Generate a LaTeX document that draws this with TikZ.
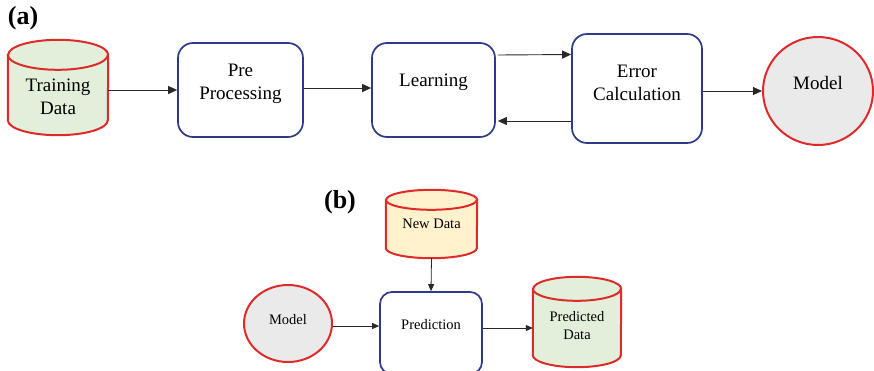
\documentclass[tikz,border=0pt]{standalone}
\usepackage{fontspec}
\setmainfont{Liberation Serif}
\usetikzlibrary{arrows.meta,positioning,shapes.geometric}
\definecolor{cred}{RGB}{224,42,42}
\definecolor{cblue}{RGB}{48,58,138}
\definecolor{gfill}{RGB}{226,239,218}
\definecolor{yfill}{RGB}{255,242,204}
\definecolor{mfill}{RGB}{234,234,234}
\definecolor{aline}{RGB}{40,40,40}
\tikzset{
  procbox/.style={draw=cblue, line width=1.7pt, rounded corners=15pt, fill=white, inner sep=0pt},
  cylshape/.style={draw=none, inner sep=0pt},
  cylline/.style={draw=cred, line width=2pt},
  modelnode/.style={ellipse, draw=cred, line width=2pt, fill=mfill, inner sep=0pt},
  bigtxt/.style={font=\fontsize{19}{23}\selectfont, align=center, inner sep=0pt},
  smalltxt/.style={font=\fontsize{14.5}{18}\selectfont, align=center, inner sep=0pt},
  tag/.style={font=\bfseries\fontsize{26}{30}\selectfont, inner sep=0pt},
  flow/.style={draw=aline, line width=0.9pt, -{Triangle[length=9pt,width=8pt]}},
  flowsmall/.style={draw=aline, line width=0.8pt, -{Triangle[length=7pt,width=6pt]}},
}
% #1 name, #2 cx, #3 cy, #4 width, #5 height, #6 ry, #7 fill
\newcommand\mycyl[7]{%
  \node[cylshape, minimum width=#4pt, minimum height=#5pt] (#1) at (#2,#3) {};
  \draw[cylline, fill=#7] ([yshift=-#6pt]#1.north west) -- ([yshift=#6pt]#1.south west)
    arc[start angle=180, end angle=360, x radius=#4*0.5pt, y radius=#6pt]
    -- ([yshift=-#6pt]#1.north east)
    arc[start angle=0, end angle=180, x radius=#4*0.5pt, y radius=#6pt] -- cycle;
  \draw[cylline] ([yshift=-#6pt]#1.north west)
    arc[start angle=180, end angle=360, x radius=#4*0.5pt, y radius=#6pt];
}
\begin{document}
\begin{tikzpicture}[x=1pt,y=-1pt]
\useasboundingbox (0,0) rectangle (874,370);

% ---- (a) ----
\node[tag] (taga) at (23,18) {(a)};
\mycyl{td}{58}{87.5}{100}{95}{15}{gfill}
\node[bigtxt] (tdt) at (58,97) {Training\\Data};

\node[procbox, minimum width=125pt, minimum height=94pt] (pp) at (240.5,90) {};
\node[bigtxt] (ppt) at (240.5,84) {Pre\\Processing};

\node[procbox, minimum width=123pt, minimum height=94pt] (lr) at (433.5,90) {};
\node[bigtxt] (lrt) at (433.5,82) {Learning};

\node[procbox, minimum width=130pt, minimum height=109pt] (ec) at (637,88.5) {};
\node[bigtxt] (ect) at (637,83) {Error\\Calculation};

\node[modelnode, minimum width=110pt, minimum height=108pt] (md) at (818,91) {};
\node[bigtxt] (mdt) at (818,83) {Model};

\draw[flow] (td.east |- 0,90) -- (pp.west |- 0,90);
\draw[flow] (pp.east |- 0,88) -- (lr.west |- 0,88);
\draw[flow] ([xshift=2pt]lr.east |- 0,55) -- (ec.west |- 0,54.5);
\draw[flow] (ec.west |- 0,121) -- ([xshift=2pt]lr.east |- 0,121);
\draw[flow] (ec.east |- 0,91) -- (md.west |- 0,91);

% ---- (b) ----
\node[tag] (tagb) at (340,202) {(b)};
\mycyl{nd}{431.5}{224}{91}{68}{10}{yfill}
\node[smalltxt] (ndt) at (431.5,224) {New Data};

\node[procbox, rounded corners=12pt, minimum width=102pt, minimum height=82pt] (pr) at (431,333) {};
\node[smalltxt] (prt) at (431,325) {Prediction};

\node[modelnode, minimum width=88pt, minimum height=77pt] (mb) at (288,323.5) {};
\node[smalltxt] (mbt) at (288,320) {Model};

\mycyl{pd}{577}{322}{88}{90}{12}{gfill}
\node[smalltxt] (pdt) at (577,326) {Predicted\\Data};

\draw[flowsmall] (nd.south |- 0,258) -- (pr.north);
\draw[flowsmall] (mb.east |- 0,326) -- (pr.west |- 0,326);
\draw[flowsmall] (pr.east |- 0,328) -- (pd.west |- 0,328);
\end{tikzpicture}
\end{document}
